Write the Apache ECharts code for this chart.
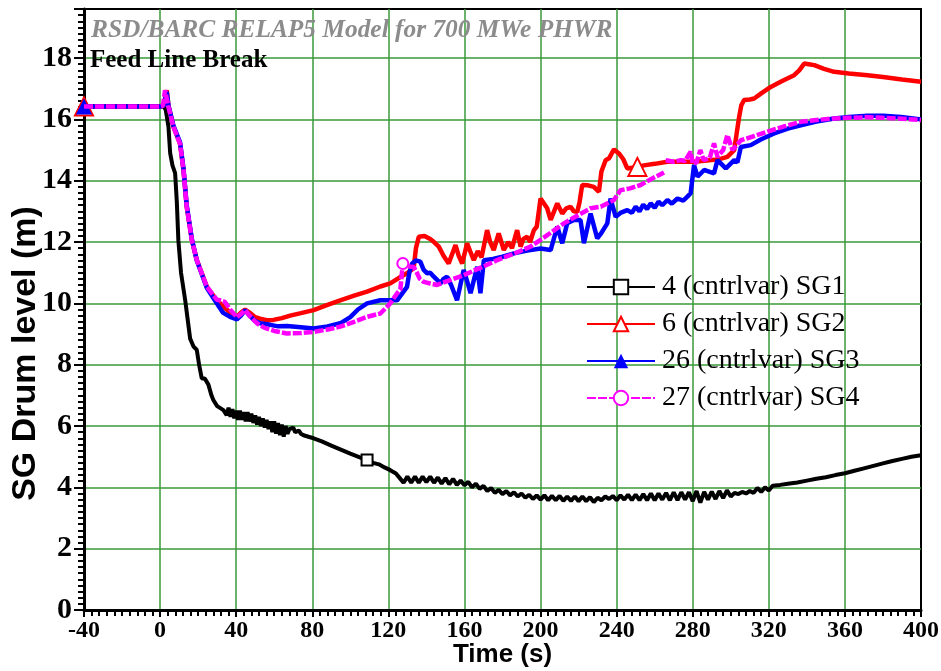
<!DOCTYPE html>
<html>
<head>
<meta charset="utf-8">
<script src="https://cdn.jsdelivr.net/npm/echarts@6/dist/echarts.min.js"></script>
<style>html,body{margin:0;padding:0;background:#fff;}#chart{width:941px;height:671px;}</style>
</head>
<body>
<div id="chart"></div>
<script>
// ---- data (time s, level m) ----
const seriesNames = ['4 (cntrlvar) SG1', '6 (cntrlvar) SG2', '26 (cntrlvar) SG3', '27 (cntrlvar) SG4'];
const xTicks = [-40, 0, 40, 80, 120, 160, 200, 240, 280, 320, 360, 400];

const sg1 = [[-40,16.42],[0,16.42],[2,16.42],[3,16.3],[4.4,15.76],[5.3,14.9],[6.5,14.5],[7.9,14.25],[8.8,13.3],[9.6,12.06],[11,11.0],[13.2,10.1],[15.8,8.85],[17.5,8.6],[19.3,8.48],[20.5,8.0],[21.9,7.55],[23.5,7.55],[25.4,7.35],[27,7.0],[28,6.85],[30,6.65],[33.3,6.52],
[35,6.35],[36,6.6],[37,6.3],[38,6.55],[39,6.25],[40,6.5],[41,6.2],[42,6.5],[43,6.2],[44,6.45],[45,6.15],[46,6.45],[47,6.15],[48,6.4],[49,6.1],[50,6.35],[51,6.05],[52,6.3],[53,6.0],[54,6.25],[55,5.95],[56,6.2],[57,5.9],[58,6.15],[59,5.8],[60,6.15],[61,5.75],[62,6.1],[63,5.7],[64,6.05],[65,5.65],[66,6.0],[67,5.75],[68,5.9],[70,5.95],[71,5.8],[72,5.75],[73,5.85],[74,5.75],[75.4,5.7],[78,5.65],[80.7,5.6],[85,5.5],[90,5.36],[95,5.23],[100,5.1],[105,4.98],[108.8,4.89],[112,4.8],[115,4.75],[118,4.65],[121,4.56],[124,4.45],
[126,4.3],[128,4.15],[130,4.35],[132,4.15],[134,4.35],[136,4.15],[138,4.35],[140,4.17],[142,4.35],[144,4.15],[146,4.32],[148,4.12],[150,4.3],[152,4.1],[154,4.28],[156,4.08],[158,4.22],[160,4.07],[162,4.18],[164,4.0],[166,4.12],[168,3.95],[170,4.05],[172,3.88],[174,3.98],[176,3.82],[178,3.92],[180,3.78],[182,3.88],[184,3.74],[186,3.84],[188,3.7],[190,3.8],[192,3.66],[194,3.76],[196,3.62],[198,3.74],[200,3.6],[202,3.74],[204,3.58],[206,3.72],[208,3.58],[210,3.72],[212,3.56],[214,3.7],[216,3.56],[218,3.7],[220,3.55],[222,3.7],[224,3.55],[226,3.68],[228,3.52],[230,3.66],[232,3.58],[234,3.7],[236,3.62],[238,3.72],[240,3.58],[242,3.74],[244,3.6],[246,3.76],[248,3.58],[250,3.76],[252,3.58],[254,3.78],[256,3.58],[258,3.8],[260,3.58],[262,3.8],[264,3.6],[266,3.82],[268,3.58],[270,3.84],[272,3.58],[274,3.84],[276,3.6],[278,3.84],[280,3.55],[282,3.88],[284,3.5],[286,3.85],[288,3.6],[290,3.86],[292,3.62],[294,3.88],[296,3.65],[298,3.9],[300,3.7],[302,3.82],[304,3.78],[306,3.85],[308,3.8],[310,3.88],[312,3.82],[314,3.98],[316,3.85],[318,4.0],[320,3.9],[322,4.05],[326,4.08],[330,4.12],[335,4.16],[340,4.22],[345,4.28],[350,4.33],[355,4.4],[360,4.46],[365,4.54],[370,4.62],[375,4.7],[380,4.78],[385,4.86],[390,4.93],[395,5.0],[400,5.05]];

const sg2 = [[-40,16.42],[0,16.42],[2,16.45],[3.5,16.95],[4.4,16.45],[7,15.76],[10.5,15.2],[12.3,14.35],[14,13.15],[16.7,12.06],[19.3,11.41],[24.6,10.54],[29.8,10.1],[31.6,10.0],[34,9.85],[36,9.75],[38,9.6],[40.4,9.56],[42.5,9.7],[44.7,9.8],[47,9.7],[50,9.55],[52.6,9.5],[56,9.45],[59.6,9.46],[64,9.52],[68.4,9.6],[74,9.68],[80.7,9.78],[88,9.95],[94.7,10.1],[102,10.25],[108.8,10.38],[115.8,10.55],[121,10.65],[126,10.85],[129.8,10.98],[133.3,11.15],[134.5,11.8],[136,12.17],[139,12.2],[142,12.1],[144,12.0],[146.5,11.85],[149,11.55],[151.7,11.3],[153.5,11.6],[155.3,11.9],[157,11.55],[158.8,11.3],[161.4,11.96],[163,11.7],[164.9,11.41],[167,11.7],[169,11.5],[171.9,12.39],[173.5,12.0],[175.4,11.74],[178,12.28],[180.7,11.74],[183,12.0],[185,11.8],[187.7,12.39],[189.5,11.85],[191,12.1],[193,12.17],[194.5,12.0],[196.5,12.39],[198,12.5],[200,13.42],[203.5,13.1],[205.3,12.72],[208.8,13.26],[211.4,12.93],[213.5,13.1],[215.8,13.15],[217.5,13.0],[219.3,12.99],[220.5,13.3],[221.9,13.86],[225,13.85],[228,13.8],[230.7,13.64],[232,14.3],[234.2,14.67],[236,14.73],[238.6,15.02],[241.2,14.89],[243.5,14.7],[245.6,14.4],[248,14.42],[250.9,14.45],[254.4,14.5],[260,14.55],[266.7,14.62],[273.7,14.62],[280.7,14.62],[286,14.65],[291.2,14.68],[295,14.72],[298.2,14.78],[301.8,15.0],[303,15.5],[304.4,16.08],[305.5,16.45],[307,16.63],[310,16.65],[312.3,16.68],[316,16.85],[321,17.06],[327,17.25],[333.3,17.44],[336,17.6],[338.6,17.82],[341,17.8],[343.9,17.77],[349,17.65],[354.4,17.55],[362,17.5],[371.9,17.44],[380,17.38],[390,17.3],[400,17.23]];

const sg3 = [[-40,16.42],[0,16.42],[2,16.45],[3.5,16.9],[4.4,16.45],[7,15.8],[10.5,15.25],[12.3,14.4],[14,13.2],[16.7,12.1],[19.3,11.4],[24.6,10.5],[29.8,10.0],[33,9.7],[36.8,9.56],[40.4,9.48],[42.5,9.6],[44.7,9.78],[47,9.6],[50,9.42],[52.6,9.35],[58,9.3],[62,9.25],[66.7,9.26],[74,9.22],[80.7,9.18],[88,9.25],[94.7,9.35],[100,9.55],[104,9.8],[108.8,10.0],[115.8,10.1],[121,10.1],[124.6,10.1],[127,10.3],[129.8,10.54],[131,11.0],[132.5,11.3],[134.5,11.4],[136.8,11.36],[138.5,11.1],[140.4,10.98],[142,11.0],[143.9,10.87],[147.4,10.65],[149,10.8],[150.9,10.87],[153,10.6],[156.1,10.1],[159.6,11.09],[161.5,10.7],[163.2,10.33],[166.7,11.19],[168.4,10.33],[170.2,11.41],[175,11.45],[180,11.52],[186,11.63],[193,11.72],[200,11.79],[205.3,11.74],[208.8,12.5],[211.4,11.96],[214,12.61],[217.5,12.72],[221,12.72],[222.8,11.96],[226.3,12.93],[229.8,12.12],[232,12.3],[235.1,12.61],[236.8,13.42],[239.5,12.82],[242,12.95],[245.6,13.04],[248,12.95],[250,13.15],[252,13.0],[254,13.22],[256,13.08],[257.9,13.26],[260,13.12],[262,13.32],[264,13.2],[266.7,13.37],[269,13.25],[272,13.42],[275,13.35],[277.2,13.48],[278.9,13.59],[280.7,14.51],[282.5,14.13],[286,14.35],[291.2,14.24],[293,14.67],[297.4,14.4],[301.8,14.67],[303.5,14.6],[305.3,15.1],[310.5,15.16],[316,15.35],[322.8,15.54],[330,15.7],[336.8,15.81],[345,15.93],[354.4,16.03],[362,16.08],[371.9,16.12],[380,16.12],[389.5,16.08],[400,16.0]];

const sg4a = [[-40,16.42],[0,16.42],[1.5,16.45],[2.6,16.95],[4.4,16.41],[7,15.76],[10.5,15.2],[12.3,14.35],[14,13.15],[16.7,12.06],[19.3,11.41],[24.6,10.54],[29.8,10.12],[31.6,10.1],[34,10.05],[36.8,9.8],[40.4,9.55],[42.5,9.65],[44.7,9.78],[47,9.6],[50.9,9.35],[55,9.2],[60,9.1],[66.7,9.02],[74,9.03],[80.7,9.07],[88,9.15],[94.7,9.24],[102,9.4],[108.8,9.56],[115.8,9.67],[121,10.0],[124.6,10.33],[126.3,10.45],[127.6,11.3],[129,11.25],[131,11.2],[133.3,11.19],[135,11.0],[136.5,10.8],[138.6,10.7],[142,10.65],[145.6,10.6],[152,10.75],[159.6,10.92],[168,11.15],[177.2,11.41],[186,11.62],[194.7,11.85],[203,12.2],[212.3,12.61],[219,12.85],[226.3,13.1],[231.6,13.15],[238.6,13.37],[242,13.69],[247,13.75],[252.6,13.86],[258,14.05],[264.9,14.27]];
const sg4b = [[265.8,14.67],[270,14.62],[273.7,14.67],[276,14.65],[278.9,14.95],[280,14.55],[282,14.6],[284,15.0],[285.8,14.67],[289,14.75],[291.2,15.22],[293,14.78],[296,15.0],[298.2,15.49],[300.9,15.0],[303,15.15],[305.3,15.32],[312,15.45],[319.3,15.6],[328,15.77],[336.8,15.92],[345,15.98],[354.4,16.03],[362,16.05],[371.9,16.07],[380,16.05],[390,16.02],[400,15.98]];

// indices of points that carry a marker
const sg1Marks = [70];
const sg2Marks = [0, 91];
const sg3Marks = [0];
const sg4Marks = [34];

function build(points, marks) {
  return points.map((p, i) => marks.indexOf(i) >= 0 ? { value: p } : { value: p, symbol: 'none' });
}
const sg4Data = build(sg4a, sg4Marks)
  .concat([{ value: [sg4a[sg4a.length - 1][0], '-'], symbol: 'none' }])
  .concat(build(sg4b, []));

const serif = "'Liberation Serif','Times New Roman',serif";
const sans = "'Liberation Sans',Arial,sans-serif";
const green = '#3a9a3a';

const chart = echarts.init(document.getElementById('chart'));
chart.setOption({
  animation: false,
  backgroundColor: '#fff',
  title: [
    { text: 'RSD/BARC RELAP5 Model for 700 MWe PHWR', left: 86, top: 13, padding: 5,
      textStyle: { fontFamily: serif, fontSize: 25.4, fontWeight: 'bold', fontStyle: 'italic', color: '#8c8c8c' } },
    { text: 'Feed Line Break', left: 85, top: 43, padding: 5,
      textStyle: { fontFamily: serif, fontSize: 25, fontWeight: 'bold', color: '#000' } }
  ],
  grid: { left: 84, right: 20, top: 9, bottom: 61, outerBoundsMode: 'none', containLabel: false,
    show: true, borderColor: '#000', borderWidth: 2, backgroundColor: 'transparent' },
  legend: {
    left: 581, top: 268, orient: 'vertical', itemWidth: 68, itemHeight: 18, itemGap: 9,
    data: seriesNames,
    textStyle: { fontFamily: serif, fontSize: 28, color: '#000', padding: [0, 0, 0, 2] }
  },
  xAxis: {
    type: 'value', min: xTicks[0], max: xTicks[xTicks.length - 1], interval: 40,
    name: 'Time (s)', nameLocation: 'middle', nameGap: 32, nameMoveOverlap: false,
    nameTextStyle: { fontFamily: sans, fontSize: 26, fontWeight: 'bold', color: '#000' },
    axisLine: { show: true, onZero: false, lineStyle: { color: '#000', width: 3 } },
    axisTick: { show: true, length: 7, lineStyle: { color: '#000', width: 2 } },
    minorTick: { show: true, splitNumber: 10, length: 6, lineStyle: { color: '#000', width: 2 } },
    axisLabel: { fontFamily: serif, fontSize: 24, fontWeight: 'bold', color: '#000', margin: 9 },
    splitLine: { show: true, showMinLine: false, showMaxLine: false, lineStyle: { color: green, width: 1.5 } }
  },
  yAxis: {
    type: 'value', min: 0, max: 19.6, interval: 2,
    name: 'SG Drum level (m)', nameLocation: 'middle', nameGap: 41, nameRotate: 90, nameMoveOverlap: false,
    nameTextStyle: { fontFamily: sans, fontSize: 34, fontWeight: 'bold', color: '#000', padding: [0, 88, 0, 0] },
    axisLine: { show: true, onZero: false, lineStyle: { color: '#000', width: 3 } },
    axisTick: { show: true, length: 10, lineStyle: { color: '#000', width: 2 } },
    minorTick: { show: true, splitNumber: 10, length: 6, lineStyle: { color: '#000', width: 2 } },
    axisLabel: { fontFamily: serif, fontSize: 30, fontWeight: 'bold', color: '#000', margin: 12, showMaxLabel: false },
    splitLine: { show: true, showMinLine: false, showMaxLine: false, lineStyle: { color: green, width: 1.5 } }
  },
  series: [
    { name: seriesNames[0], type: 'line', data: build(sg1, sg1Marks), symbol: 'emptyRect', symbolSize: 11,
      color: '#000', lineStyle: { color: '#000', width: 4 }, itemStyle: { color: '#000', borderWidth: 1.5 }, z: 2 },
    { name: seriesNames[1], type: 'line', data: build(sg2, sg2Marks), symbol: 'emptyTriangle', symbolSize: 18,
      color: '#ff0000', lineStyle: { color: '#ff0000', width: 4.5 }, itemStyle: { color: '#ff0000', borderWidth: 2 }, z: 3 },
    { name: seriesNames[2], type: 'line', data: build(sg3, sg3Marks), symbol: 'triangle', symbolSize: 16,
      color: '#0000ff', lineStyle: { color: '#0000ff', width: 4.5 }, itemStyle: { color: '#0000ff' }, z: 4 },
    { name: seriesNames[3], type: 'line', data: sg4Data, symbol: 'emptyCircle', symbolSize: 11,
      color: '#ff00ff', lineStyle: { color: '#ff00ff', width: 4.5, type: [9, 2] }, itemStyle: { color: '#ff00ff', borderWidth: 1.5 }, z: 5 }
  ]
});
</script>
</body>
</html>
